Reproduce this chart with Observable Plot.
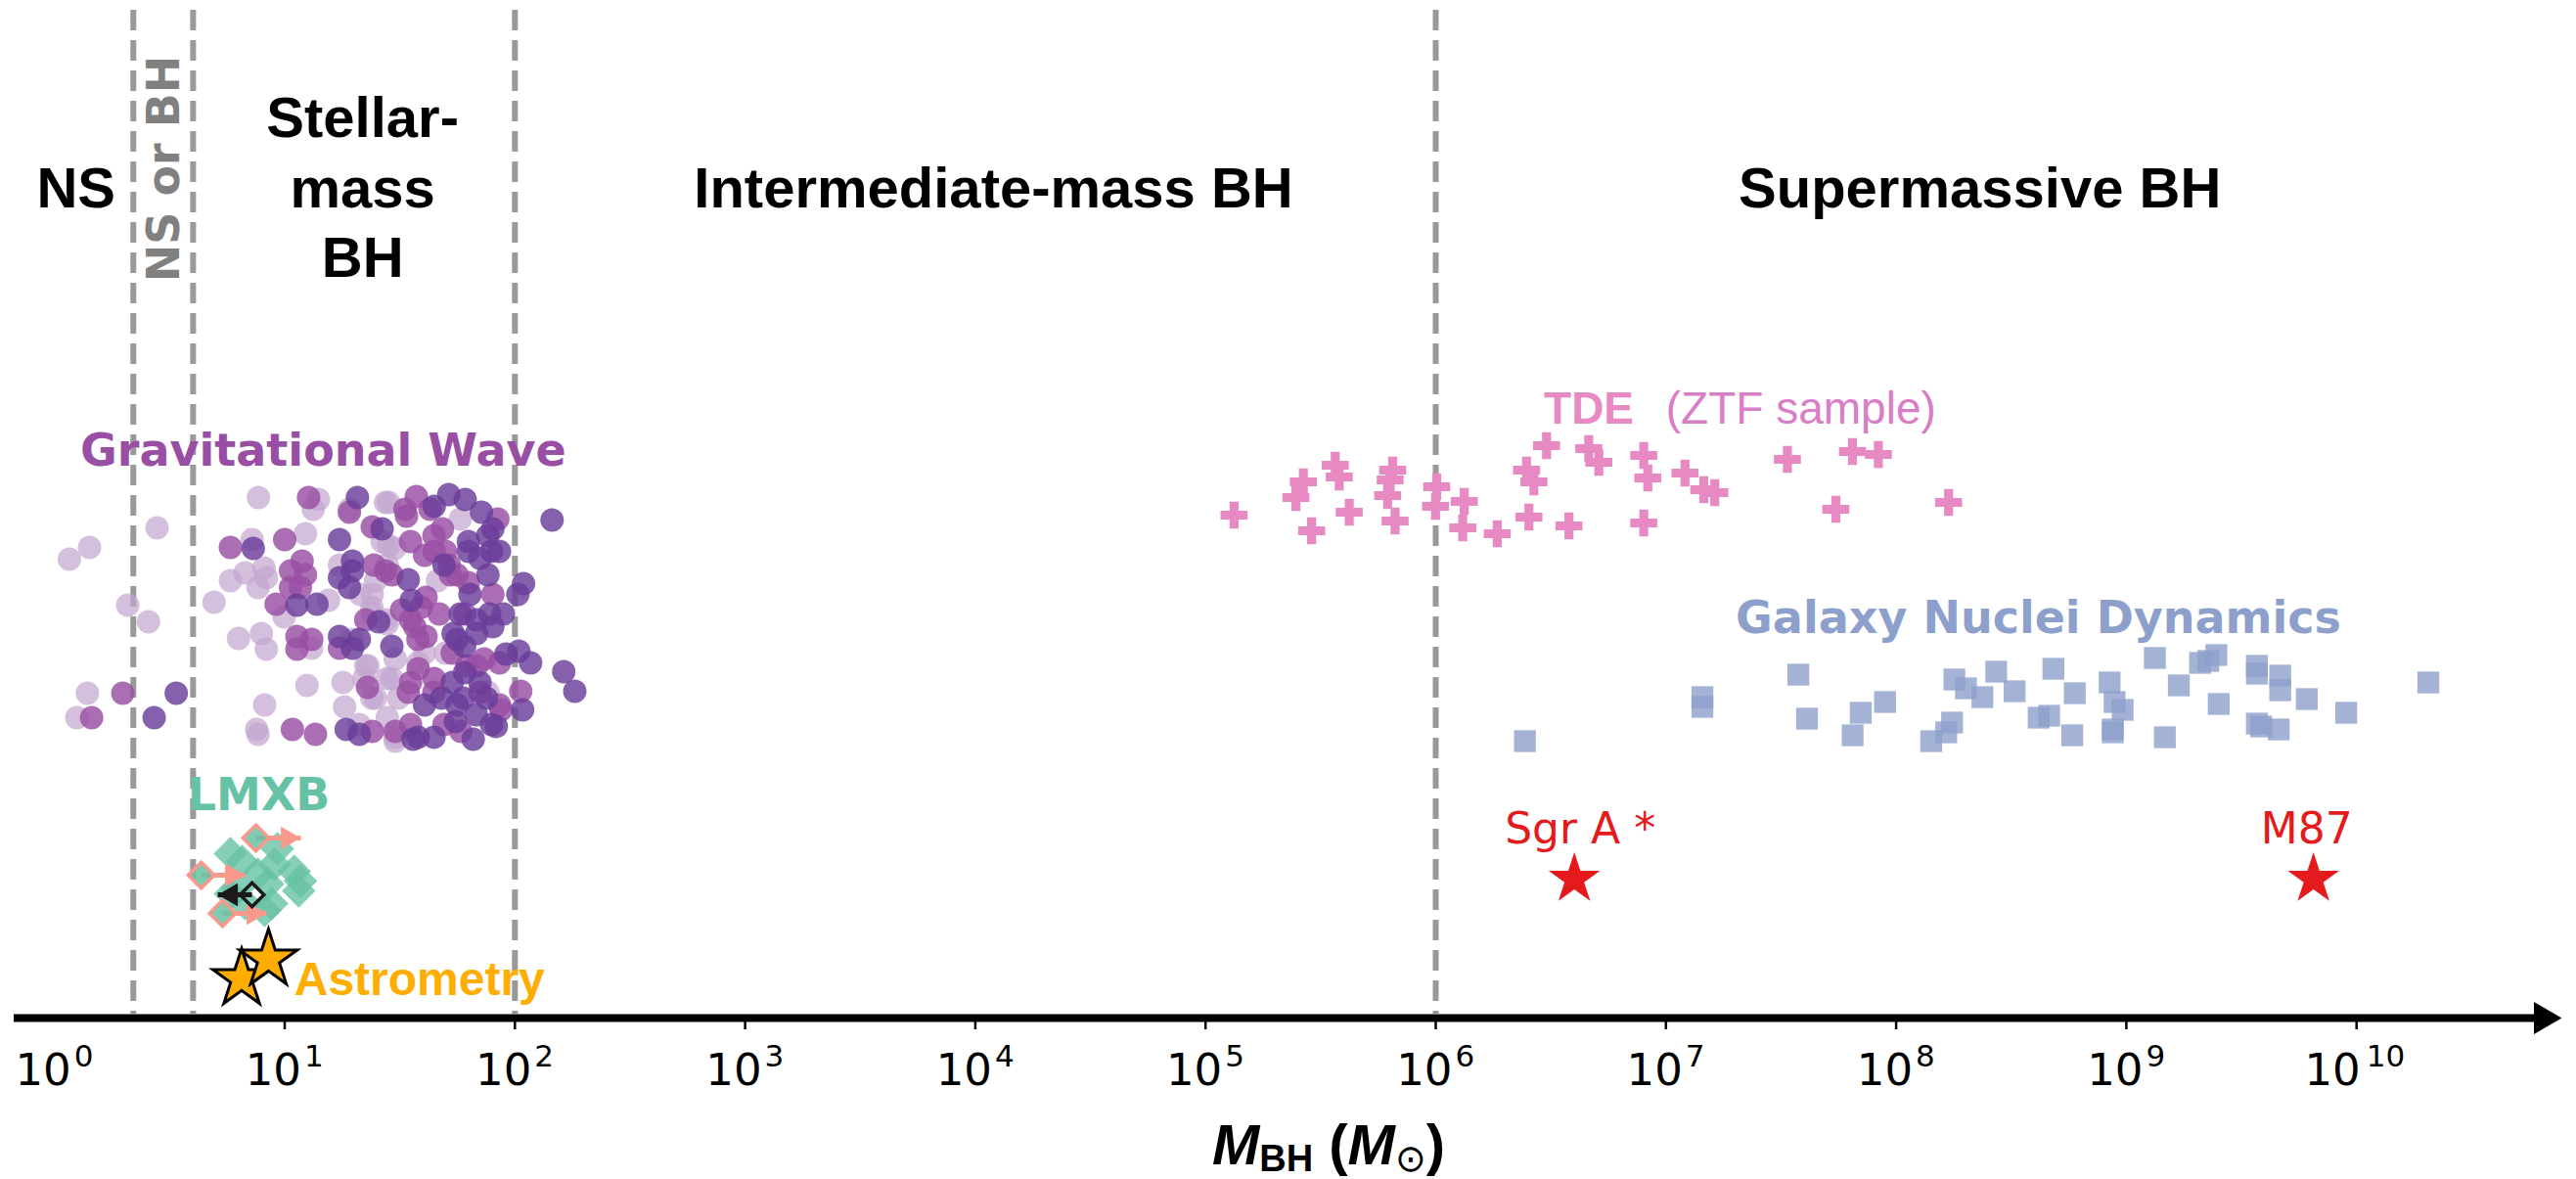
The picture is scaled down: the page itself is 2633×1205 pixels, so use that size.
<!DOCTYPE html>
<html><head><meta charset="utf-8">
<script src="https://cdn.jsdelivr.net/npm/d3@7"></script>
<script src="https://cdn.jsdelivr.net/npm/@observablehq/plot@0.6"></script>
<style>body{margin:0;background:#fff}</style>
</head><body><div id="chart"></div>
<script>
// ---------- data (mass in solar masses, level = arbitrary vertical jitter) ----------
const boundaries = [2.2, 4, 100, 1e6];
const tickExponents = [0,1,2,3,4,5,6,7,8,9,10];
const regionNames = ["NS", "Stellar-\nmass\nBH", "Intermediate-mass BH", "Supermassive BH"];
const regionCenters = [1.24, 21.8, 1.2e4, 2.31e8];

const gwLight = [[1.16,46.9],[1.42,48.1],[2.79,50.1],[2.08,42.2],[2.56,40.5],[1.39,33.2],[1.25,30.7],[7.69,53.2],
[4.93,42.5],[5.81,44.7],[6.73,45.5],[7.22,48.9],[8.13,46.0],[7.66,44.0],[8.32,45.0],[6.30,38.8],
[7.92,39.3],[8.32,37.7],[8.18,32.0],[7.55,29.5],[7.66,29.0],[12.3,49.5],[12.5,34.0],[15.5,42.7],
[9.95,41.0],[14.0,53.0],[13.3,52.0],[17.9,34.3],[18.2,31.8],[19.1,52.0],[27.4,52.7],[26.5,48.7],
[24.0,43.3],[24.0,41.3],[22.5,36.0],[24.8,32.7],[21.1,30.0],[17.3,46.3],[13.1,37.8],
[28.3,52.7],[46.1,44.7],[40.5,37.3],[29.2,34.7],[31.2,32.7],[27.4,40.7],[76.4,33.3],[30.2,28.7],
[57.9,51.0],[37.9,36.3],[28.3,48.3],
[30.1,48.0],[27.9,46.3],[23.9,42.0],[27.9,40.3],[49.9,37.3],[23.0,36.0],[27.9,34.7],[23.9,32.7],[27.9,30.7],[30.2,28.3],
[30.2,36.7],[21.3,43.3],[24.8,44.7],[19.7,38.7],[22.1,34.7]];

const gwMid = [[1.98,33.2],[1.45,30.7],[5.81,48.1],[10.0,48.9],[12.7,53.2],[19.1,51.7],[9.18,42.3],[10.6,45.7],
[11.9,46.7],[10.6,44.0],[11.7,44.0],[12.3,45.3],[11.3,39.0],[13.1,38.7],[11.3,37.7],[10.8,29.5],
[13.6,29.0],[24.0,50.2],[24.4,46.3],[22.5,40.7],[17.3,37.8],[22.9,33.8],[24.0,29.3],[27.4,45.7],
[84.3,51.0],[80.2,43.3],[85.7,36.3],[106,33.4],[87.1,31.5],[37.3,53.3],[33.3,52.0],[48.4,50.0],
[44.6,47.7],[52.5,45.3],[62.8,44.5],[39.2,42.0],[46.9,41.3],[36.7,40.0],[37.9,38.7],[53.4,37.3],
[61.8,36.0],[68.2,36.0],[44.6,34.7],[34.4,33.3],[49.2,30.0],[30.2,29.3],[29.2,45.3],[32.2,41.7],
[40.5,47.3],[35.2,48.7],[44.5,49.3],[49.9,47.7],[41.1,43.0],[56.0,45.3],[35.2,40.7],[41.1,39.0],
[73.5,36.7],[35.2,34.3],[44.5,33.3],[85.7,32.0],[35.2,30.0],
[33.8,51.3],[42.8,52.0],[51.9,46.3],[60.5,41.3],[38.0,35.7],[70.5,33.3],[58.2,29.3]];

const gwDark = [[3.38,33.2],[2.71,30.7],[145,50.9],[163,35.4],[182,33.4],[109,44.4],[103,43.3],[108,31.5],
[7.30,48.0],[17.3,48.9],[20.7,53.2],[11.3,42.2],[13.8,42.3],[19.7,46.7],[17.3,45.0],[19.1,44.0],
[19.7,45.7],[17.3,39.0],[21.1,38.7],[19.7,37.8],[18.5,29.5],[21.1,29.0],[25.6,40.5],[26.5,50.0],
[91.4,37.2],[104,37.5],[117,36.3],[83.0,29.8],[65.9,28.5],[51.6,53.5],[60.8,53.0],[71.6,51.7],
[80.2,50.0],[85.7,47.7],[62.8,48.7],[62.8,47.7],[76.4,45.3],[34.4,44.8],[35.5,42.7],[63.8,43.3],
[57.9,41.3],[68.2,40.7],[77.6,41.3],[80.2,40.0],[56.1,38.7],[68.2,39.3],[53.4,34.3],[59.8,32.7],
[70.5,34.3],[75.2,32.7],[55.2,30.3],[36.1,28.5],[40.5,32.0],[29.2,38.0],[44.6,52.3],[49.2,46.3],
[79.2,47.7],[60.5,38.0],[56.0,32.0],[68.0,31.0],[44.5,28.7],[38.0,28.7],
[76.2,49.3],[70.5,47.0],[53.9,39.3],[89.1,41.3],[60.5,35.3],[48.0,32.7],[79.2,30.0]];

const tde = [[1.33e5,51.4],[2.66e5,54.8],[2.47e5,53.2],[2.89e5,49.8],[3.66e5,56.5],[3.81e5,55.3],[4.21e5,51.7],
[6.50e5,56.0],[6.34e5,55.0],[6.18e5,53.4],[6.66e5,50.8],[1.01e6,54.3],[9.98e5,52.3],[1.33e6,52.8],
[1.31e6,50.1],[1.85e6,49.5],[2.48e6,56.0],[2.67e6,54.8],[2.54e6,51.2],[3.03e6,58.5],[3.79e6,50.3],
[4.62e6,58.2],[5.11e6,56.8],[8.01e6,57.5],[8.34e6,55.2],[8.01e6,50.6],[1.21e7,55.7],[1.46e7,54.0],
[1.63e7,53.7],[3.37e7,57.1],[6.46e7,57.9],[8.37e7,57.6],[5.47e7,52.0],[1.69e8,52.7]];

const galaxy = [[2.44e6,28.3],[1.44e7,32.8],[1.44e7,31.8],[3.76e7,35.1],[4.10e7,30.6],[7.02e7,31.2],[6.47e7,28.9],
[8.95e7,32.3],[1.79e8,34.6],[2.01e8,33.7],[2.37e8,32.8],[2.72e8,35.4],[3.27e8,33.4],[1.75e8,30.2],
[1.65e8,29.2],[1.42e8,28.3],[4.82e8,35.7],[4.16e8,30.7],[4.62e8,30.9],[5.97e8,33.2],[5.82e8,28.9],
[8.46e8,34.3],[8.89e8,32.3],[9.64e8,31.5],[8.73e8,29.5],[8.73e8,29.2],[1.33e9,36.8],[1.69e9,34.0],
[1.47e9,28.7],[2.09e9,36.3],[2.46e9,37.1],[2.27e9,36.5],[2.52e9,32.1],[3.69e9,36.0],[3.69e9,35.2],
[4.66e9,35.0],[4.66e9,33.5],[3.69e9,30.1],[3.85e9,29.8],[4.59e9,29.5],[6.08e9,32.6],[9.02e9,31.2],
[2.05e10,34.3]];

const lmxb = [[5.81,16.8],[6.53,16.0],[9.29,17.3],[9.02,15.7],[11.0,15.0],[11.7,14.0],[11.5,13.0],[7.64,14.7],
[8.43,13.7],[6.28,13.3],[5.81,12.7],[8.77,11.7],[8.18,11.0],[6.73,11.7]];
// [mass, level, arrow tip mass]
const lmxbLower = [[7.50,18.4,11.75],[4.34,14.6,6.73],[5.37,10.7,8.34]];
const lmxbUpper = [[7.21,12.6,5.12]];
const astrometry = [[6.5,4.0],[8.5,6.0]];
const eht = [["Sgr A *",4.0e6,14.2],["M87",6.5e9,14.2]];

// ---------- chart ----------
const fx = d => d[0], fy = d => d[1];
const LIB = "Liberation Sans, Arial, Helvetica, sans-serif";
const DJV = "DejaVu Sans, sans-serif";
const plot = Plot.plot({
  width: 2633, height: 1205,
  x: {type: "log", domain: [1, 1e10], range: [55.2, 2408.2], axis: null},
  y: {domain: [0, 100], range: [1040, 40], axis: null},
  style: {background: "white", overflow: "visible"},
  marks: [
    Plot.ruleX(boundaries, {x: d => d, y1: 103, y2: 0.4, stroke: "#999999", strokeWidth: 6, strokeDasharray: "21,10"}),
    // axis
    Plot.ruleY([0], {y: d => d, x1: 0.668, x2: 5.93e10, stroke: "black", strokeWidth: 8}),
    Plot.dot([6.47e10], {x: d => d, y: 0, symbol: "triangle", rotate: 90, r: 12.2, fill: "black"}),
    Plot.ruleX(tickExponents.filter(e => e > 0), {x: e => 10 ** e, y1: 0, y2: -1.2, stroke: "black", strokeWidth: 2.5}),
    Plot.text(tickExponents.filter(e => e < 10), {x: e => 10 ** e, y: -5.36, text: () => "10", textAnchor: "end", dx: 17, fontSize: 45, fontFamily: DJV, fill: "black"}),
    Plot.text(tickExponents.filter(e => e < 10), {x: e => 10 ** e, y: -3.91, text: e => String(e), textAnchor: "start", dx: 20, fontSize: 31, fontFamily: DJV, fill: "black"}),
    Plot.text(tickExponents.filter(e => e >= 10), {x: e => 10 ** e, y: -5.36, text: () => "10", textAnchor: "end", dx: 4, fontSize: 45, fontFamily: DJV, fill: "black"}),
    Plot.text(tickExponents.filter(e => e >= 10), {x: e => 10 ** e, y: -3.91, text: e => String(e), textAnchor: "start", dx: 10, fontSize: 31, fontFamily: DJV, fill: "black"}),
    // region labels
    Plot.text(regionNames, {x: (d, i) => regionCenters[i], y: 85.16, text: d => d, fontSize: 58, fontWeight: "bold", fontFamily: LIB, lineHeight: 1.23, fill: "black"}),
    Plot.text(["NS or BH"], {x: 3.0, y: 86.8, text: d => d, rotate: -90, fontSize: 46, fontWeight: "bold", fontFamily: DJV, fill: "#808080"}),
    // gravitational waves
    Plot.dot(gwLight, {x: fx, y: fy, r: 12, fill: "#c2a5cf", fillOpacity: 0.7}),
    Plot.dot(gwMid, {x: fx, y: fy, r: 12, fill: "#984ea3", fillOpacity: 0.82}),
    Plot.dot(gwDark, {x: fx, y: fy, r: 12, fill: "#6a3d9a", fillOpacity: 0.82}),
    Plot.text(["Gravitational Wave"], {x: 14.7, y: 57.97, text: d => d, fontSize: 46, fontWeight: "bold", fontFamily: DJV, fill: "#984ea3"}),
    // TDE
    Plot.dot(tde, {x: fx, y: fy, symbol: "cross", r: 11.6, fill: "#e78ac3"}),
    Plot.text(["TDE"], {x: 2.95e6, y: 62.2, text: d => d, textAnchor: "start", fontSize: 46, fontWeight: "bold", fontFamily: LIB, fill: "#e78ac3"}),
    Plot.text(["(ZTF sample)"], {x: 1.0e7, y: 62.2, text: d => d, textAnchor: "start", fontSize: 46, fontFamily: LIB, fill: "#d97dc7"}),
    // galaxy nuclei
    Plot.dot(galaxy, {x: fx, y: fy, symbol: "square", r: 12.6, fill: "#8da0cb", fillOpacity: 0.8}),
    Plot.text(["Galaxy Nuclei Dynamics"], {x: 4.15e8, y: 40.87, text: d => d, fontSize: 46, fontWeight: "bold", fontFamily: DJV, fill: "#8da0cb"}),
    // EHT
    Plot.dot(eht, {x: d => d[1], y: d => d[2], symbol: "star", r: 16.5, fill: "#e41a1c"}),
    Plot.text(eht.slice(0,1), {x: d => d[1], y: 19.21, text: d => d[0], dx: 6, fontSize: 44, fontFamily: DJV, fill: "#e41a1c"}),
    Plot.text(eht.slice(1), {x: d => d[1], y: 19.21, text: d => d[0], dx: -7, fontSize: 44, fontFamily: DJV, fill: "#e41a1c"}),
    // LMXB
    Plot.dot(lmxb, {x: fx, y: fy, symbol: "diamond2", r: 15.5, fill: "#66c2a5", fillOpacity: 0.8}),
    Plot.link(lmxbLower, {x1: fx, y1: fy, x2: d => d[2], y2: fy, stroke: "#f9998c", strokeWidth: 5}),
    Plot.dot(lmxbLower, {x: d => d[2], y: fy, symbol: "triangle", rotate: 90, r: 8.8, fill: "#f9998c", dx: -13.6}),
    Plot.dot(lmxbLower, {x: fx, y: fy, symbol: "diamond2", r: 12, fill: "#66c2a5", fillOpacity: 0.85, stroke: "#f9998c", strokeWidth: 3.5}),
    Plot.link(lmxbUpper, {x1: fx, y1: fy, x2: d => d[2], y2: fy, stroke: "#1a1a1a", strokeWidth: 5}),
    Plot.dot(lmxbUpper, {x: d => d[2], y: fy, symbol: "triangle", rotate: -90, r: 8.8, fill: "#1a1a1a", dx: 13.6}),
    Plot.dot(lmxbUpper, {x: fx, y: fy, symbol: "diamond2", r: 11, fill: "none", stroke: "#1a1a1a", strokeWidth: 3.5}),
    Plot.text(["LMXB"], {x: 7.72, y: 22.77, text: d => d, fontSize: 46, fontWeight: "bold", fontFamily: DJV, fill: "#66c2a5"}),
    // Astrometry
    Plot.dot(astrometry, {x: fx, y: fy, symbol: "star", r: 18.5, fill: "#ffad00", stroke: "black", strokeWidth: 3}),
    Plot.text(["Astrometry"], {x: 11.0, y: 3.84, text: d => d, textAnchor: "start", fontSize: 48, fontWeight: "bold", fontFamily: LIB, fill: "#ffad00"})
  ]
});

// x-axis title with mixed styles
const svg = d3.select(plot);
const t = svg.append("text").attr("x", 1358).attr("y", 1190).attr("text-anchor", "middle")
  .attr("font-family", LIB).attr("font-weight", "bold").attr("font-size", 58).attr("fill", "black");
t.append("tspan").attr("font-style", "italic").text("M");
t.append("tspan").attr("font-size", 38).attr("dy", 7).text("BH");
t.append("tspan").attr("dy", -7).text(" (");
t.append("tspan").attr("font-style", "italic").text("M");
t.append("tspan").attr("font-size", 38).attr("dy", 7).attr("font-family", DJV).attr("font-weight", "normal").text("\u2299");
t.append("tspan").attr("dy", -7).text(")");

document.getElementById("chart").appendChild(plot);
</script></body></html>
